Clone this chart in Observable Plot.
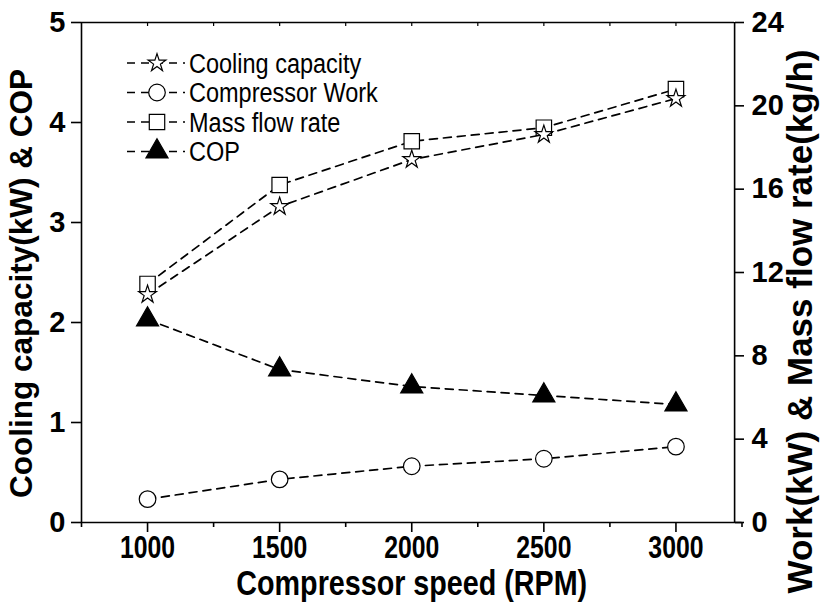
<!DOCTYPE html>
<html>
<head>
<meta charset="utf-8">
<script src="https://cdn.jsdelivr.net/npm/d3@7"></script>
<script src="https://cdn.jsdelivr.net/npm/@observablehq/plot@0.6"></script>
<style>
  html, body { margin: 0; padding: 0; background: #fff; }
  #chart { width: 822px; height: 607px; }
</style>
</head>
<body>
<div id="chart"></div>
<script>
// ---- data ----
const speeds = [1000, 1500, 2000, 2500, 3000];
const coolingCapacity = [2.28, 3.16, 3.63, 3.88, 4.24];   // kW, left axis
const cop = [2.03, 1.53, 1.36, 1.27, 1.18];               // left axis
const compressorWork = [1.12, 2.07, 2.70, 3.06, 3.64];    // kW, right axis
const massFlowRate = [11.45, 16.2, 18.3, 18.95, 20.8];    // kg/h, right axis

const seriesNames = ["Cooling capacity", "Compressor Work", "Mass flow rate", "COP"];
const leftTicks = [0, 1, 2, 3, 4, 5];
const rightTicks = [0, 4, 8, 12, 16, 20, 24];
const xMajorTicks = [1000, 1500, 2000, 2500, 3000];
const xMinorTicks = [750, 1250, 1750, 2250, 2750, 3250];
const xTitle = "Compressor speed (RPM)";
const yLeftTitle = "Cooling capacity(kW) & COP";
const yRightTitle = "Work(kW) & Mass flow rate(kg/h)";

// ---- derived ----
const xDomain = [750, 3250];
const frameRight = 3222;       // right spine position (x units)
const k = 5 / 24;              // right-axis units -> left-axis units

function rows(values, scale = 1) {
  return speeds.map((s, i) => ({ x: s, y: values[i] * scale }));
}
const dCool = rows(coolingCapacity);
const dCop = rows(cop);
const dWork = rows(compressorWork, k);
const dMass = rows(massFlowRate, k);

const dash = "8,6";
const lineOpts = { x: "x", y: "y", stroke: "black", strokeWidth: 1.7, strokeDasharray: dash };
const symbols = { "Cooling capacity": "star", "Compressor Work": "circle", "Mass flow rate": "square", "COP": "triangle" };
const radius = { star: 5.6, circle: 8.3, square: 8.7, triangle: 8.2 };
const fills = { star: "white", circle: "white", square: "white", triangle: "black" };
const dotOpts = (sym) => ({ x: "x", y: "y", symbol: sym, r: radius[sym], fill: fills[sym], stroke: "black", strokeWidth: 1.2 });

const font = "'Liberation Sans', Arial, Helvetica, sans-serif";

const chart = Plot.plot({
  width: 822,
  height: 607,
  marginLeft: 81,
  marginRight: 80.5,
  marginTop: 22,
  marginBottom: 85,
  x: { domain: xDomain, axis: null },
  y: { domain: [0, 5], axis: null },
  style: { background: "white", fontFamily: font, color: "black" },
  marks: [
    // frame
    Plot.ruleY([0], { x1: xDomain[0], x2: xDomain[1], stroke: "black", strokeWidth: 1.6 }),
    Plot.ruleY([5], { x1: xDomain[0], x2: frameRight, stroke: "black", strokeWidth: 1.6 }),
    Plot.ruleX([xDomain[0]], { y1: 0, y2: 5, stroke: "black", strokeWidth: 1.6 }),
    Plot.ruleX([frameRight], { y1: 0, y2: 5, stroke: "black", strokeWidth: 1.6 }),
    // top inner ticks
    Plot.ruleX(xMajorTicks.concat(xMinorTicks.slice(1, -1)), { x: d => d, y1: 5, y2: 5 - 0.04, stroke: "black", strokeWidth: 1.2 }),
    // bottom axis
    Plot.axisX({ anchor: "bottom", ticks: xMajorTicks, tickSize: 10, tickPadding: 3, tickFormat: d => String(d),
      fontSize: 31, fontWeight: "bold", label: null, strokeWidth: 1.6 }),
    Plot.axisX({ anchor: "bottom", ticks: xMinorTicks, tickSize: 5, tickFormat: () => "", label: null, strokeWidth: 1.6 }),
    // left axis
    Plot.axisY({ anchor: "left", ticks: leftTicks, tickSize: 10, tickPadding: 6, tickFormat: d => String(d),
      fontSize: 29, fontWeight: "bold", label: null, strokeWidth: 1.6 }),
    // right axis (shifted onto the right spine)
    Plot.axisY({ anchor: "right", ticks: rightTicks.map(v => v * k), tickSize: 9, tickPadding: 8, dx: -7.5,
      tickFormat: d => String(Math.round(d / k)), fontSize: 29, fontWeight: "bold", label: null, strokeWidth: 1.6 }),
    // titles
    Plot.text([xTitle], { text: d => d, frameAnchor: "bottom", lineAnchor: "middle", textAnchor: "middle", dy: 61, fontSize: 35, fontWeight: "bold" }),
    Plot.text([yLeftTitle], { text: d => d, frameAnchor: "left", textAnchor: "middle", lineAnchor: "middle", rotate: -90, dx: -60, dy: 11, fontSize: 31.5, fontWeight: "bold" }),
    Plot.text([yRightTitle], { text: d => d, frameAnchor: "right", textAnchor: "middle", lineAnchor: "middle", rotate: -90, dx: 59, dy: 49, fontSize: 35, fontWeight: "bold" }),
    // series lines
    Plot.line(dCool, lineOpts),
    Plot.line(dMass, lineOpts),
    Plot.line(dCop, lineOpts),
    Plot.line(dWork, lineOpts),
    // markers
    Plot.dot(dMass, dotOpts("square")),
    Plot.dot(dCool, dotOpts("star")),
    Plot.dot(dCop, dotOpts("triangle")),
    Plot.dot(dWork, dotOpts("circle"))
  ]
});

document.getElementById("chart").appendChild(chart);

// condense some text horizontally (narrow bold face look)
function condense(strings, s) {
  const set = new Set(strings.map(String));
  d3.select(chart).selectAll("text").each(function () {
    if (!set.has(this.textContent)) return;
    const L = this.getComputedTextLength();
    this.setAttribute("textLength", (L * s).toFixed(2));
    this.setAttribute("lengthAdjust", "spacingAndGlyphs");
  });
}
condense(xMajorTicks, 0.8);
condense([xTitle], 0.82);

// ---- legend (inside frame, top-left) ----
const svg = d3.select(chart);
const lg = svg.append("g").attr("aria-label", "legend");
const lgX0 = 127, lgX1 = 185, lgSym = 157, lgText = 189, lgY0 = 63, lgStep = 29.5;
seriesNames.forEach((name, i) => {
  const y = lgY0 + i * lgStep;
  const sym = symbols[name];
  const g = lg.append("g").attr("transform", `translate(0,${y})`);
  g.append("line").attr("x1", lgX0).attr("x2", lgX1).attr("y1", 0).attr("y2", 0)
    .attr("stroke", "black").attr("stroke-width", 1.6).attr("stroke-dasharray", dash);
  const d3sym = { star: d3.symbolStar, circle: d3.symbolCircle, square: d3.symbolSquare, triangle: d3.symbolTriangle }[sym];
  g.append("path").attr("transform", `translate(${lgSym},0)`)
    .attr("d", d3.symbol(d3sym, Math.PI * radius[sym] ** 2)())
    .attr("fill", fills[sym]).attr("stroke", "black").attr("stroke-width", 1.2);
  const t = g.append("text").attr("x", lgText).attr("y", 0)
    .attr("dy", "0.36em").attr("font-size", 27).attr("font-family", font).attr("fill", "black")
    .attr("text-anchor", "start").attr("font-weight", "normal")
    .text(name);
  const L = t.node().getComputedTextLength();
  t.attr("textLength", (L * 0.87).toFixed(2)).attr("lengthAdjust", "spacingAndGlyphs");
});
</script>
</body>
</html>
